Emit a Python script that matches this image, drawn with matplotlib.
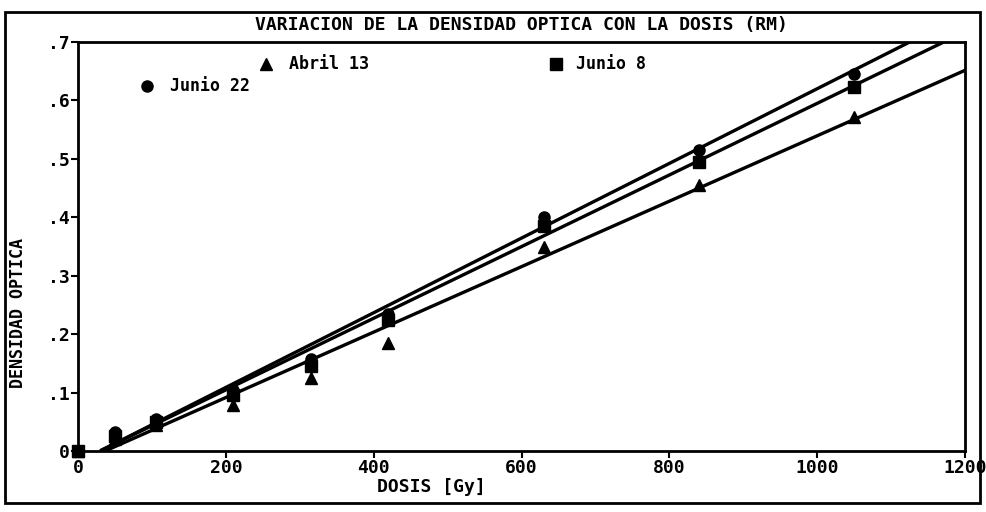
import numpy as np
import matplotlib.pyplot as plt
from matplotlib.patches import Rectangle

# dosis (Gy) y densidad optica
dosis = [0, 50, 105, 210, 315, 420, 630, 840, 1050]
junio22 = [0.0, 0.032, 0.055, 0.105, 0.158, 0.235, 0.400, 0.515, 0.645]
junio8 = [0.0, 0.025, 0.050, 0.095, 0.145, 0.225, 0.385, 0.495, 0.623]
abril13 = [0.0, 0.020, 0.045, 0.078, 0.125, 0.185, 0.350, 0.455, 0.572]

# rectas de ajuste (pendiente, ordenada)
pendiente = [0.000639, 0.000613, 0.000560]
ordenada = [-0.019, -0.018, -0.0205]

series = [
    ('Junio 22', junio22, 'o'),
    ('Junio 8', junio8, 's'),
    ('Abril 13', abril13, '^'),
]

xticks = [0, 200, 400, 600, 800, 1000, 1200]
yticks = [0, 0.1, 0.2, 0.3, 0.4, 0.5, 0.6, 0.7]
ylabels = ['0', '.1', '.2', '.3', '.4', '.5', '.6', '.7']

plt.rcParams['font.family'] = ['DejaVu Sans Mono']
plt.rcParams['font.weight'] = 'bold'

fig = plt.figure(figsize=(9.86, 5.12), dpi=100)
ax = fig.add_axes([78 / 986, 1 - 451 / 512, (965 - 78) / 986, (451 - 42) / 512])

xfit = np.linspace(0, 1200, 300)
for (name, y, m), k, b in zip(series, pendiente, ordenada):
    ax.plot(dosis, y, m, color='black', markersize=8, clip_on=False)
    yf = k * xfit + b
    ok = yf >= 0
    ax.plot(xfit[ok], yf[ok], color='black', lw=2.4)

ax.set_xlim(0, 1200)
ax.set_ylim(0, 0.7)
ax.set_xticks(xticks)
ax.set_xticklabels([str(t) for t in xticks])
ax.set_yticks(yticks)
ax.set_yticklabels(ylabels)
ax.tick_params(direction='out', length=5, width=1.5, labelsize=13, pad=1)
for s in ax.spines.values():
    s.set_linewidth(2)

# leyenda escrita dentro del grafico
ax.plot([254], [0.663], '^', color='black', markersize=8)
ax.text(285, 0.663, 'Abril 13', fontsize=12, va='center')
ax.plot([647], [0.663], 's', color='black', markersize=8)
ax.text(674, 0.663, 'Junio 8', fontsize=12, va='center')
ax.plot([94], [0.625], 'o', color='black', markersize=8)
ax.text(125, 0.625, 'Junio 22', fontsize=12, va='center')

fig.text(521 / 986, 1 - 25 / 512, 'VARIACION DE LA DENSIDAD OPTICA CON LA DOSIS (RM)',
         ha='center', va='center', fontsize=13)
fig.text(431 / 986, 1 - 487 / 512, 'DOSIS [Gy]', ha='center', va='center', fontsize=13)
fig.text(18 / 986, 1 - 313 / 512, 'DENSIDAD OPTICA', ha='center', va='center',
         rotation=90, fontsize=12)

fig.patches.append(Rectangle((5 / 986, 1 - 503 / 512), 975 / 986, 491 / 512,
                             transform=fig.transFigure, fill=False, lw=2, color='black'))

fig.savefig('out.png', dpi=100)
